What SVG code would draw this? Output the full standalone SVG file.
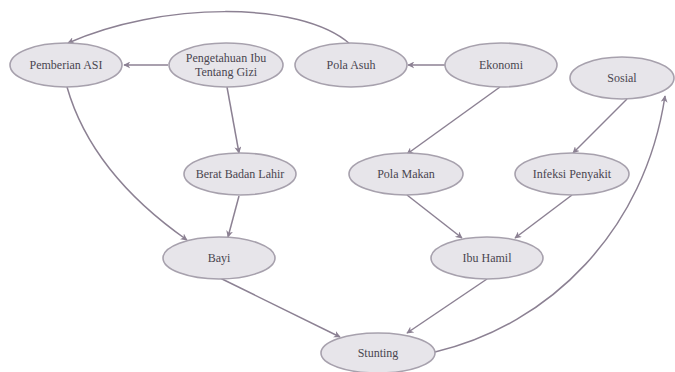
<svg xmlns="http://www.w3.org/2000/svg" width="675" height="372" viewBox="0 0 675 372">
<style>
.n ellipse{fill:#e7e5ea;stroke:#a7a1ad;stroke-width:1.6}
.n text{font-family:'Liberation Serif','DejaVu Serif',serif;font-size:12px;fill:#4a4550;text-anchor:middle}
.e path{fill:none;stroke:#8c8193;stroke-width:1.5;marker-end:url(#ah)}
</style>
<defs>
<marker id="ah" viewBox="0 0 10 10" refX="9" refY="5" markerWidth="7" markerHeight="7" orient="auto" markerUnits="userSpaceOnUse">
<path d="M0,0 L10,5 L0,10 L3,5 Z" fill="#8c8193"/>
</marker>
</defs>
<rect width="675" height="372" fill="#ffffff"/>
<g class="e" id="edges">
<path d="M350,44 C300,0 160,2 68,43"/>
<path d="M168,65 L124,65"/>
<path d="M445,65 L408,65"/>
<path d="M227,87 L239,153"/>
<path d="M239,196 L228,237"/>
<path d="M67,87 C85,150 130,200 187,240"/>
<path d="M500,87 L407,154"/>
<path d="M627,99 L573,153"/>
<path d="M407,195 L462,238"/>
<path d="M572,195 L515,238"/>
<path d="M220,278 L340,337"/>
<path d="M487,279 L407,333"/>
<path d="M435,352 C550,325 645,230 665,96"/>
</g>
<g class="n" id="pemberian-asi" font-family="Liberation Serif, serif"><ellipse cx="66" cy="65" rx="56" ry="22"/><text x="66" y="69">Pemberian ASI</text></g>
<g class="n" id="pengetahuan" font-family="Liberation Serif, serif"><ellipse cx="226" cy="65" rx="57" ry="22"/><text x="226" y="62">Pengetahuan Ibu</text><text x="226" y="76">Tentang Gizi</text></g>
<g class="n" id="pola-asuh"><ellipse cx="351" cy="65" rx="56" ry="22"/><text x="351" y="69">Pola Asuh</text></g>
<g class="n" id="ekonomi"><ellipse cx="501" cy="65" rx="56" ry="22"/><text x="501" y="69">Ekonomi</text></g>
<g class="n" id="sosial"><ellipse cx="622" cy="78" rx="52" ry="21"/><text x="622" y="82">Sosial</text></g>
<g class="n" id="berat-badan-lahir"><ellipse cx="240" cy="174" rx="56" ry="21"/><text x="240" y="178">Berat Badan Lahir</text></g>
<g class="n" id="pola-makan"><ellipse cx="406" cy="174" rx="57" ry="21"/><text x="406" y="178">Pola Makan</text></g>
<g class="n" id="infeksi-penyakit"><ellipse cx="572" cy="174" rx="57" ry="21"/><text x="572" y="178">Infeksi Penyakit</text></g>
<g class="n" id="bayi"><ellipse cx="219" cy="258" rx="56" ry="21"/><text x="219" y="262">Bayi</text></g>
<g class="n" id="ibu-hamil"><ellipse cx="487" cy="258" rx="56" ry="21"/><text x="487" y="262">Ibu Hamil</text></g>
<g class="n" id="stunting"><ellipse cx="378" cy="353" rx="57" ry="20"/><text x="378" y="357">Stunting</text></g>
</svg>
